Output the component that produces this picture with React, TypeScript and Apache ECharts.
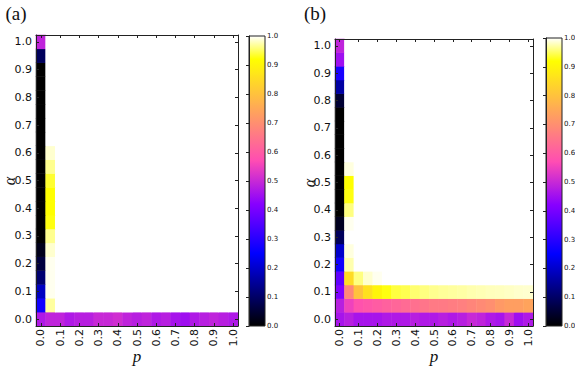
import React, { useEffect, useRef } from 'react';
import * as echarts from 'echarts';

// category labels (p on x, alpha on y), step 0.05
const P_CATS = ['0.0','0.05','0.1','0.15','0.2','0.25','0.3','0.35','0.4','0.45','0.5','0.55','0.6','0.65','0.7','0.75','0.8','0.85','0.9','0.95','1.0'];
const ALPHA_CATS = ['0.0','0.05','0.1','0.15','0.2','0.25','0.3','0.35','0.4','0.45','0.5','0.55','0.6','0.65','0.7','0.75','0.8','0.85','0.9','0.95','1.0'];

// Panel (a): rows from alpha = 0.0 (first) to alpha = 1.0 (last); columns p = 0.0 .. 1.0
const A_ROWS: number[][] = [
  [0.47,0.49,0.49,0.47,0.48,0.48,0.50,0.50,0.51,0.49,0.48,0.49,0.47,0.48,0.46,0.45,0.47,0.48,0.49,0.48,0.47],
  [0.27,0.97,1,1,1,1,1,1,1,1,1,1,1,1,1,1,1,1,1,1,1],
  [0.19,0.995,1,1,1,1,1,1,1,1,1,1,1,1,1,1,1,1,1,1,1],
  [0.11,0.995,1,1,1,1,1,1,1,1,1,1,1,1,1,1,1,1,1,1,1],
  [0.06,0.995,1,1,1,1,1,1,1,1,1,1,1,1,1,1,1,1,1,1,1],
  [0.025,0.985,1,1,1,1,1,1,1,1,1,1,1,1,1,1,1,1,1,1,1],
  [0,0.965,1,1,1,1,1,1,1,1,1,1,1,1,1,1,1,1,1,1,1],
  [0,0.925,1,1,1,1,1,1,1,1,1,1,1,1,1,1,1,1,1,1,1],
  [0,0.92,1,1,1,1,1,1,1,1,1,1,1,1,1,1,1,1,1,1,1],
  [0,0.92,1,1,1,1,1,1,1,1,1,1,1,1,1,1,1,1,1,1,1],
  [0,0.935,1,1,1,1,1,1,1,1,1,1,1,1,1,1,1,1,1,1,1],
  [0,0.965,1,1,1,1,1,1,1,1,1,1,1,1,1,1,1,1,1,1,1],
  [0,0.985,1,1,1,1,1,1,1,1,1,1,1,1,1,1,1,1,1,1,1],
  [0,1,1,1,1,1,1,1,1,1,1,1,1,1,1,1,1,1,1,1,1],
  [0,1,1,1,1,1,1,1,1,1,1,1,1,1,1,1,1,1,1,1,1],
  [0,1,1,1,1,1,1,1,1,1,1,1,1,1,1,1,1,1,1,1,1],
  [0,1,1,1,1,1,1,1,1,1,1,1,1,1,1,1,1,1,1,1,1],
  [0,1,1,1,1,1,1,1,1,1,1,1,1,1,1,1,1,1,1,1,1],
  [0,1,1,1,1,1,1,1,1,1,1,1,1,1,1,1,1,1,1,1,1],
  [0.09,1,1,1,1,1,1,1,1,1,1,1,1,1,1,1,1,1,1,1,1],
  [0.49,1,1,1,1,1,1,1,1,1,1,1,1,1,1,1,1,1,1,1,1],
];

// Panel (b)
const B_ROWS: number[][] = [
  [0.46,0.48,0.46,0.46,0.46,0.47,0.47,0.47,0.48,0.47,0.47,0.48,0.47,0.48,0.50,0.49,0.47,0.46,0.50,0.45,0.47],
  [0.48,0.55,0.58,0.59,0.60,0.61,0.62,0.63,0.64,0.65,0.66,0.66,0.665,0.67,0.68,0.69,0.70,0.72,0.73,0.73,0.74],
  [0.41,0.685,0.80,0.86,0.90,0.925,0.94,0.945,0.955,0.96,0.965,0.968,0.97,0.972,0.975,0.977,0.979,0.98,0.982,0.984,0.985],
  [0.37,0.85,0.96,0.985,0.995,1,1,1,1,1,1,1,1,1,1,1,1,1,1,1,1],
  [0.27,0.975,1,1,1,1,1,1,1,1,1,1,1,1,1,1,1,1,1,1,1],
  [0.20,0.99,1,1,1,1,1,1,1,1,1,1,1,1,1,1,1,1,1,1,1],
  [0.09,1,1,1,1,1,1,1,1,1,1,1,1,1,1,1,1,1,1,1,1],
  [0.03,0.995,1,1,1,1,1,1,1,1,1,1,1,1,1,1,1,1,1,1,1],
  [0,0.96,1,1,1,1,1,1,1,1,1,1,1,1,1,1,1,1,1,1,1],
  [0,0.925,1,1,1,1,1,1,1,1,1,1,1,1,1,1,1,1,1,1,1],
  [0,0.92,1,1,1,1,1,1,1,1,1,1,1,1,1,1,1,1,1,1,1],
  [0,0.99,1,1,1,1,1,1,1,1,1,1,1,1,1,1,1,1,1,1,1],
  [0,1,1,1,1,1,1,1,1,1,1,1,1,1,1,1,1,1,1,1,1],
  [0,1,1,1,1,1,1,1,1,1,1,1,1,1,1,1,1,1,1,1,1],
  [0,1,1,1,1,1,1,1,1,1,1,1,1,1,1,1,1,1,1,1,1],
  [0,1,1,1,1,1,1,1,1,1,1,1,1,1,1,1,1,1,1,1,1],
  [0.05,1,1,1,1,1,1,1,1,1,1,1,1,1,1,1,1,1,1,1,1],
  [0.16,1,1,1,1,1,1,1,1,1,1,1,1,1,1,1,1,1,1,1,1],
  [0.28,1,1,1,1,1,1,1,1,1,1,1,1,1,1,1,1,1,1,1,1],
  [0.45,1,1,1,1,1,1,1,1,1,1,1,1,1,1,1,1,1,1,1,1],
  [0.49,1,1,1,1,1,1,1,1,1,1,1,1,1,1,1,1,1,1,1,1],
];

// matplotlib "gnuplot2" colormap
function gnuplot2(x: number): string {
  const c = (v: number) => Math.max(0, Math.min(1, v));
  const r = c(x / 0.32 - 0.78125);
  const g = c(2 * x - 0.84);
  let b: number;
  if (x < 0.25) b = 4 * x;
  else if (x < 0.92) b = -2 * x + 1.84;
  else b = x / 0.08 - 11.5;
  b = c(b);
  return `rgb(${Math.round(r * 255)},${Math.round(g * 255)},${Math.round(b * 255)})`;
}
const CMAP = Array.from({ length: 201 }, (_, k) => gnuplot2(k / 200));

function toCells(rows: number[][]) {
  const out: number[][] = [];
  rows.forEach((row, j) => row.forEach((v, i) => out.push([i, j, v])));
  return out;
}

const TICK_FONT = 'DejaVu Sans';

function catAxis(gridIndex: number, data: string[], position: string, showLabels: boolean, isX: boolean) {
  return {
    type: 'category',
    gridIndex,
    data,
    position,
    boundaryGap: true,
    z: 5,
    axisLine: { show: true, lineStyle: { color: '#222', width: 1 } },
    axisTick: { show: true, inside: true, alignWithLabel: true, interval: 1, length: 3, lineStyle: { color: '#222' } },
    axisLabel: {
      show: showLabels,
      interval: 1,
      rotate: isX ? 90 : 0,
      margin: isX ? 3 : 4,
      fontFamily: TICK_FONT,
      fontSize: 11,
      color: '#111',
    },
    splitLine: { show: false },
  };
}

export default function App() {
  const ref = useRef<HTMLDivElement>(null);
  useEffect(() => {
    if (!ref.current) return;
    const chart = echarts.init(ref.current, null, { renderer: 'svg' });
    const grad = new echarts.graphic.LinearGradient(0, 0, 0, 1,
      Array.from({ length: 101 }, (_, k) => ({ offset: k / 100, color: gnuplot2(1 - k / 100) })));
    const cbarY = (gridIndex: number) => ({
      type: 'value', gridIndex, min: 0, max: 1, interval: 0.1, position: 'right', z: 5,
      axisLine: { show: true, lineStyle: { color: '#222' } },
      axisTick: { show: true, inside: true, length: 3, lineStyle: { color: '#222' } },
      axisLabel: { fontFamily: TICK_FONT, fontSize: 7, margin: 2, color: '#111', formatter: (v: number) => v.toFixed(1) },
      splitLine: { show: false },
    });
    const cbarX = (gridIndex: number) => ({ type: 'value', gridIndex, min: 0, max: 1, show: false });
    const serifText = (text: string, x: number, y: number, size: number, italic: boolean, rot = 0) => ({
      type: 'text', x, y, rotation: rot,
      style: {
        text, fill: '#111',
        font: `${italic ? 'italic ' : ''}${size}px "Liberation Serif", "DejaVu Serif", serif`,
        textAlign: 'center', textVerticalAlign: 'middle', align: 'center', verticalAlign: 'middle',
      },
    });
    chart.setOption({
      animation: false,
      backgroundColor: '#fff',
      grid: [
        { left: 36, top: 35, width: 202, height: 291, containLabel: false, outerBoundsMode: 'none' },
        { left: 335, top: 39, width: 198, height: 287, containLabel: false, outerBoundsMode: 'none' },
        { left: 249, top: 36, width: 16, height: 290, show: true, borderColor: '#222', borderWidth: 1, backgroundColor: grad, containLabel: false, outerBoundsMode: 'none' },
        { left: 546, top: 38, width: 16, height: 288, show: true, borderColor: '#222', borderWidth: 1, backgroundColor: grad, containLabel: false, outerBoundsMode: 'none' },
      ],
      xAxis: [
        catAxis(0, P_CATS, 'bottom', true, true),
        catAxis(0, P_CATS, 'top', false, true),
        catAxis(1, P_CATS, 'bottom', true, true),
        catAxis(1, P_CATS, 'top', false, true),
        cbarX(2),
        cbarX(3),
      ],
      yAxis: [
        catAxis(0, ALPHA_CATS, 'left', true, false),
        catAxis(0, ALPHA_CATS, 'right', false, false),
        catAxis(1, ALPHA_CATS, 'left', true, false),
        catAxis(1, ALPHA_CATS, 'right', false, false),
        cbarY(2),
        cbarY(3),
      ],
      visualMap: {
        type: 'continuous', show: false, min: 0, max: 1, seriesIndex: [0, 1],
        inRange: { color: CMAP },
      },
      series: [
        { type: 'heatmap', xAxisIndex: 0, yAxisIndex: 0, data: toCells(A_ROWS), itemStyle: { borderWidth: 0 }, emphasis: { disabled: true } },
        { type: 'heatmap', xAxisIndex: 2, yAxisIndex: 2, data: toCells(B_ROWS), itemStyle: { borderWidth: 0 }, emphasis: { disabled: true } },
      ],
      graphic: [
        serifText('(a)', 16, 13, 19, false),
        serifText('(b)', 315, 13, 19, false),
        serifText('α', 9, 181, 16, true, Math.PI / 2),
        serifText('α', 309, 183, 16, true, Math.PI / 2),
        serifText('p', 137, 356, 17, true),
        serifText('p', 434, 356, 17, true),
      ],
    });
    return () => chart.dispose();
  }, []);
  return <div ref={ref} style={{ position: 'fixed', left: 0, top: 0, width: 575, height: 367, background: '#fff' }} />;
}
